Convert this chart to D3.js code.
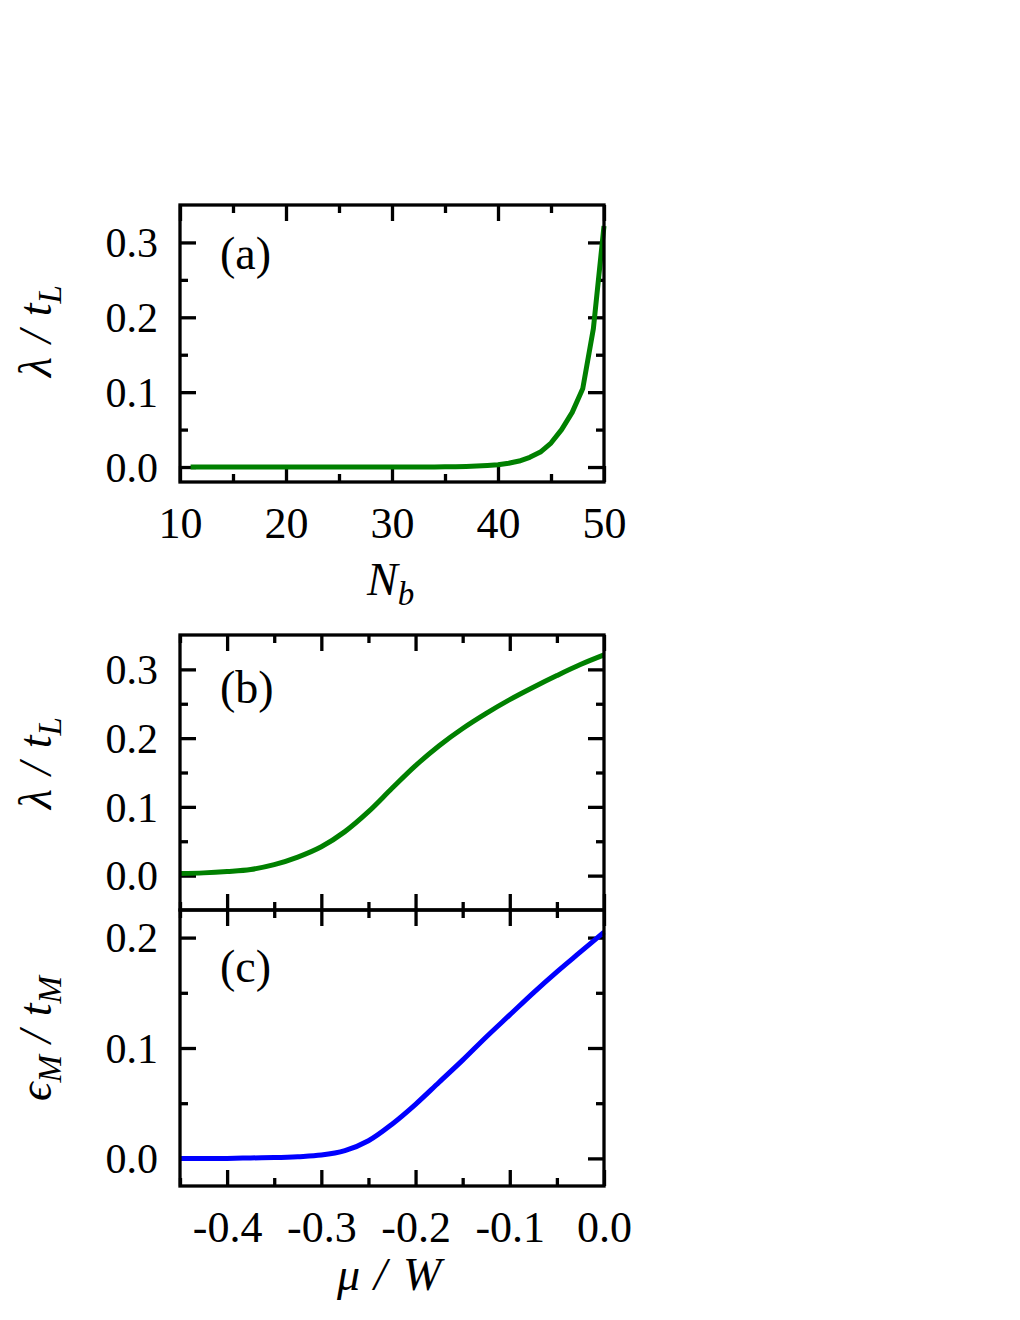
<!DOCTYPE html>
<html><head><meta charset="utf-8">
<script src="https://cdn.jsdelivr.net/npm/d3@7"></script>
<style>
body{margin:0;background:#fff;}
text{font-family:"Liberation Serif","Times New Roman",serif;fill:#000;}
</style></head>
<body><svg id="c" width="1020" height="1320"></svg>
<script>
// ---- data ----
const nbValues = [11,12,13,14,15,16,17,18,19,20,21,22,23,24,25,26,27,28,29,30,31,32,33,34,35,36,37,38,39,40,41,42,43,44,45,46,47,48,49,50];
const lambdaNb = [0,0,0,0,0,0,0,0,0,0,0,0,0,0,0,0,0,0,0,0,0,0,0.0001,0.0002,0.0003,0.0005,0.0008,0.0013,0.002,0.003,0.005,0.008,0.013,0.020,0.032,0.050,0.073,0.105,0.185,0.322];
const muValues = [-0.45,-0.425,-0.40,-0.375,-0.35,-0.325,-0.30,-0.275,-0.25,-0.225,-0.20,-0.175,-0.15,-0.125,-0.10,-0.075,-0.05,-0.025,0.0];
const lambdaMu = [0.003,0.004,0.006,0.009,0.016,0.027,0.042,0.064,0.093,0.127,0.160,0.189,0.214,0.236,0.256,0.274,0.291,0.307,0.321];
const epsMu = [0.000,0.000,0.000,0.0004,0.0008,0.0016,0.003,0.007,0.016,0.031,0.049,0.069,0.089,0.110,0.130,0.150,0.169,0.187,0.205];
const nbTicks = [10,20,30,40,50];
const nbMinor = [15,25,35,45];
const muTicks = [-0.4,-0.3,-0.2,-0.1,0.0];
const muMinor = [-0.45,-0.35,-0.25,-0.15,-0.05];
const lamTicks = [0.0,0.1,0.2,0.3];
const lamMinor = [0.05,0.15,0.25];
const epsTicks = [0.0,0.1,0.2];
const epsMinor = [0.05,0.15];

const svg = d3.select("#c");
const L = 180, R = 604;
const MAJ = 16, MIN = 8, SW = 3.3;
const f1 = d3.format(".1f");
const fmt = d => f1(d).replace("\u2212","-");

function panel(o){
  const g = svg.append("g");
  const x = d3.scaleLinear().domain(o.xd).range([L,R]);
  const y = d3.scaleLinear().domain(o.yd).range([o.bottom,o.top]);
  const H = o.bottom-o.top, W = R-L;
  function ax(axisFn, scale, vals, size, labels, tr){
    const a = axisFn(scale).tickValues(vals).tickSize(-size).tickSizeOuter(0);
    if(!labels) a.tickFormat("");
    else a.tickFormat(o.fmtX && axisFn===d3.axisBottom ? o.fmtX : fmt);
    const s = g.append("g").attr("transform",tr).call(a);
    s.select(".domain").remove();
    s.selectAll("line").attr("stroke","#000").attr("stroke-width",SW);
    return s;
  }
  const bx = ax(d3.axisBottom,x,o.xt,MAJ,o.showX,`translate(0,${o.bottom})`);
  ax(d3.axisBottom,x,o.xm,MIN,false,`translate(0,${o.bottom})`);
  ax(d3.axisTop,x,o.xt,MAJ,false,`translate(0,${o.top})`);
  ax(d3.axisTop,x,o.xm,MIN,false,`translate(0,${o.top})`);
  const ly = ax(d3.axisLeft,y,o.yt,MAJ,true,`translate(${L},0)`);
  ax(d3.axisLeft,y,o.ym,MIN,false,`translate(${L},0)`);
  ax(d3.axisRight,y,o.yt,MAJ,false,`translate(${R},0)`);
  ax(d3.axisRight,y,o.ym,MIN,false,`translate(${R},0)`);
  if(o.showX){
    bx.selectAll("text").attr("y",56).attr("dy",0).attr("font-size",44)
      .attr("font-family",'"Liberation Serif",serif');
  }
  ly.selectAll("text").attr("x",-22).attr("dy","0.34em").attr("font-size",42)
    .attr("font-family",'"Liberation Serif",serif').attr("text-anchor","end");
  g.append("path").datum(o.xs.map((v,i)=>[v,o.ys[i]]))
    .attr("fill","none").attr("stroke",o.color).attr("stroke-width",5)
    .attr("stroke-linejoin","round")
    .attr("d",d3.line().x(d=>x(d[0])).y(d=>y(d[1])).curve(o.curve));
  g.append("rect").attr("x",L).attr("y",o.top).attr("width",W).attr("height",H)
    .attr("fill","none").attr("stroke","#000").attr("stroke-width",SW);
  g.append("text").attr("x",220).attr("y",o.labY).attr("font-size",46).text(o.label);
  // y title (rotated)
  const t = g.append("text").attr("transform",`translate(51,${o.ytY}) rotate(-90)`)
    .attr("font-size",46).attr("font-style","italic").attr("text-anchor","start");
  t.append("tspan").text(o.yt1);
  if(o.ytSub1){ t.append("tspan").attr("font-size",33).attr("dy",10).text(o.ytSub1);
                t.append("tspan").attr("dy",-10).attr("dx",12).text("/"); }
  else { t.append("tspan").attr("dx",14).text("/"); }
  t.append("tspan").attr("dx",14).text("t");
  t.append("tspan").attr("font-size",33).attr("dy",10).text(o.ytSub2);
}

panel({xd:[10,50], yd:[-0.02,0.35], top:205, bottom:482, xt:nbTicks, xm:nbMinor, yt:lamTicks, ym:lamMinor,
  showX:true, fmtX:d3.format("d"), xs:nbValues, ys:lambdaNb, color:"#008000", curve:d3.curveLinear,
  label:"(a)", labY:269, ytY:377, yt1:"λ", ytSub1:"", ytSub2:"L"});
panel({xd:[-0.45,0], yd:[-0.05,0.35], top:635, bottom:910, xt:muTicks, xm:muMinor, yt:lamTicks, ym:lamMinor,
  showX:false, xs:muValues, ys:lambdaMu, color:"#008000", curve:d3.curveCatmullRom.alpha(0.5),
  label:"(b)", labY:703, ytY:809, yt1:"λ", ytSub1:"", ytSub2:"L"});
panel({xd:[-0.45,0], yd:[-0.025,0.225], top:910, bottom:1186, xt:muTicks, xm:muMinor, yt:epsTicks, ym:epsMinor,
  showX:true, fmtX:fmt, xs:muValues, ys:epsMu, color:"#0000ff", curve:d3.curveCatmullRom.alpha(0.5),
  label:"(c)", labY:982, ytY:1101, yt1:"ϵ", ytSub1:"M", ytSub2:"M"});

// x titles
const nb = svg.append("text").attr("x",367).attr("y",595).attr("font-size",46).attr("font-style","italic");
nb.append("tspan").text("N");
nb.append("tspan").attr("font-size",33).attr("dy",10).text("b");
const mw = svg.append("text").attr("x",337).attr("y",1290).attr("font-size",46).attr("font-style","italic");
mw.append("tspan").text("μ");
mw.append("tspan").attr("dx",14).text("/");
mw.append("tspan").attr("dx",16).text("W");
</script></body></html>
